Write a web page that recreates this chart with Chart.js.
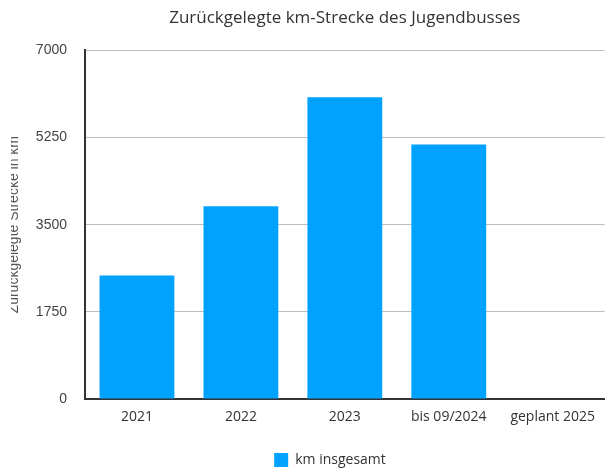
<!DOCTYPE html>
<html>
<head>
<meta charset="utf-8">
<script src="https://cdn.jsdelivr.net/npm/chart.js@4"></script>
<style>
  html, body { margin: 0; padding: 0; background: #fff; overflow: hidden; }
  #wrap { position: absolute; left: 11px; top: 0; width: 594px; height: 470px; }
</style>
</head>
<body>
<div id="wrap"><canvas id="c" width="594" height="470"></canvas></div>
<script>
const categories = ['2021', '2022', '2023', 'bis 09/2024', 'geplant 2025'];
const kmTotal = [2480, 3870, 6060, 5110, null];
const yTicks = [0, 1750, 3500, 5250, 7000];
const seriesName = 'km insgesamt';
const chartTitle = 'Zurückgelegte km-Strecke des Jugendbusses';
const yAxisTitle = 'Zurückgelegte Strecke in km';

const legendShift = {
  id: 'legendShift',
  afterLayout(chart) {
    const lg = chart.legend;
    if (lg) { lg.left += 22; lg.right += 22; lg.top += 7; lg.bottom += 7; }
  }
};

new Chart(document.getElementById('c'), {
  type: 'bar',
  data: {
    labels: categories,
    datasets: [{
      label: seriesName,
      data: kmTotal,
      backgroundColor: '#00A2FF',
      borderWidth: 0,
      categoryPercentage: 0.8,
      barPercentage: 0.9
    }]
  },
  options: {
    responsive: false,
    animation: false,
    layout: { padding: { left: 0, right: 0, top: 0, bottom: 0 } },
    plugins: {
      title: {
        display: true,
        text: chartTitle,
        fullSize: false,
        color: '#333',
        font: { family: 'Open Sans', size: 17, weight: 'normal' },
        padding: { top: 8, bottom: 22 }
      },
      legend: {
        position: 'bottom',
        labels: {
          boxWidth: 14, boxHeight: 14,
          color: '#333',
          font: { family: 'Open Sans', size: 14 },
          padding: 10
        }
      },
      tooltip: { enabled: false }
    },
    scales: {
      x: {
        afterFit: (axis) => { axis.height = 37; },
        grid: { display: false, drawTicks: false },
        border: { display: true, color: '#333', width: 2 },
        ticks: { color: '#333', font: { family: 'Open Sans', size: 14 }, padding: 10, maxRotation: 0 }
      },
      y: {
        min: 0, max: 7000,
        afterBuildTicks: (axis) => { axis.ticks = yTicks.map(v => ({ value: v })); },
        afterFit: (axis) => { axis.width = 74; },
        grid: { color: '#bdbdbd', lineWidth: 1, drawTicks: false },
        border: { display: true, color: '#333', width: 2 },
        ticks: {
          color: '#444',
          font: { family: 'Liberation Sans', size: 14 },
          padding: 18,
          callback: (v) => String(v)
        },
        title: {
          display: true,
          text: yAxisTitle,
          color: '#555',
          font: { family: 'Liberation Sans', size: 14 },
          padding: { top: -5.5, bottom: 0 }
        }
      }
    }
  },
  plugins: [legendShift]
});
</script>
</body>
</html>
